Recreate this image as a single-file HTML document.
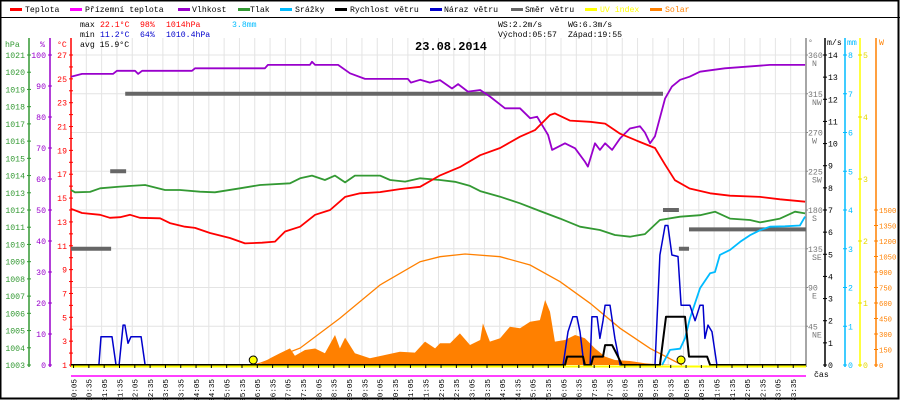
<!DOCTYPE html>
<html><head><meta charset="utf-8"><style>
html,body{margin:0;padding:0;background:#fff;}
svg{display:block;font-family:"Liberation Mono",monospace;}
</style></head><body>
<svg id="chart" width="900" height="400" viewBox="0 0 900 400" xmlns="http://www.w3.org/2000/svg">
<rect x="0.5" y="0.5" width="898" height="398" fill="#fff" stroke="#000" stroke-width="2"/>
<line x1="0" y1="17.5" x2="900" y2="17.5" stroke="#000" stroke-width="1"/>
<g id="grid"></g>
<g id="legend" font-size="8.2"></g>
<g font-size="8.2">
<text x="80" y="27" fill="#000">max</text>
<text x="100" y="27" fill="#f00">22.1°C</text>
<text x="140" y="27" fill="#f00">98%</text>
<text x="166" y="27" fill="#f00">1014hPa</text>
<text x="232" y="27" fill="#00bbff">3.8mm</text>
<text x="80" y="37" fill="#000">min</text>
<text x="100" y="37" fill="#00c">11.2°C</text>
<text x="140" y="37" fill="#00c">64%</text>
<text x="166" y="37" fill="#00c">1010.4hPa</text>
<text x="80" y="47" fill="#000">avg 15.9°C</text>
<text x="498" y="27" fill="#000">WS:2.2m/s</text>
<text x="568" y="27" fill="#000">WG:6.3m/s</text>
<text x="498" y="37" fill="#000">Východ:05:57</text>
<text x="568" y="37" fill="#000">Západ:19:55</text>
</g>
<text x="415" y="50" font-size="12" font-weight="bold" fill="#000">23.08.2014</text>
<g id="axes" font-size="8.2"></g>
<g id="series"></g>
<g id="xaxis" font-size="7.6"></g>
</svg>
<script>
// ---- data (hours since midnight, values in native units) ----
const tempTimes=[0,0.36,0.95,1.27,1.6,1.93,2.25,2.91,3.23,3.72,4.05,4.54,5.19,5.68,6.24,6.66,6.99,7.48,7.97,8.46,8.95,9.44,10.09,10.74,11.4,12.05,12.7,13.36,14.01,14.66,15.15,15.64,15.8,16.29,16.95,17.44,17.93,18.58,19.07,19.4,19.72,20.2,20.87,21.52,22.5,23.15,23.97];
const tempValues=[14.1,13.75,13.6,13.35,13.4,13.6,13.35,13.3,12.9,12.6,12.5,12.07,11.65,11.2,11.26,11.35,12.2,12.6,13.6,14.0,15.1,15.4,15.5,15.75,15.95,16.9,17.6,18.6,19.2,20.15,20.7,21.97,22.1,21.5,21.4,21.25,20.4,19.7,19.2,17.8,16.5,15.8,15.4,15.2,15.1,14.9,14.7];
const humTimes=[0,0.36,1.37,1.5,2.09,2.19,2.32,3.95,4.05,6.33,6.43,7.8,7.87,7.97,8.72,9.11,9.6,11.0,11.1,11.4,11.72,12.05,12.44,12.64,12.96,13.36,13.68,14.17,14.66,14.99,15.22,15.58,15.71,16.13,16.46,16.78,16.88,17.11,17.27,17.44,17.67,17.93,18.25,18.58,18.74,18.91,19.07,19.4,19.62,19.89,20.2,20.54,21.35,22.82,23.97];
const humValues=[93,93.9,93.9,94.9,94.9,93.9,94.9,94.9,95.7,95.7,96.8,96.8,97.8,96.8,96.8,94.1,92.3,92.3,91.1,92,91.1,91.9,89.2,90.6,88.2,88.7,86.6,82.8,82.8,79.6,80.1,74.2,69.4,71.5,69.9,65.6,64,71.5,69.4,71.5,69.4,73.1,76.3,77,75,71.5,73.8,86,89.8,92,93,94.6,95.7,96.8,96.8];
const pressTimes=[0,0.13,0.62,0.95,1.6,2.42,3.07,3.56,4.21,4.7,5.52,6.17,7.15,7.48,7.87,8.29,8.62,8.95,9.27,10.09,10.42,10.91,11.4,12.05,12.54,13.03,13.36,14.01,14.66,15.31,15.97,16.62,17.27,17.76,18.25,18.74,19.23,19.89,20.54,21.03,21.52,22.17,22.5,23.15,23.64,23.97];
const pressValues=[1013.16,1013.03,1013.05,1013.26,1013.36,1013.45,1013.16,1013.16,1013.06,1013.03,1013.26,1013.45,1013.55,1013.84,1014.0,1013.74,1014,1013.6,1014,1014,1013.74,1013.65,1013.84,1013.74,1013.64,1013.4,1013.1,1012.77,1012.39,1011.94,1011.5,1011.03,1010.84,1010.55,1010.45,1010.6,1011.42,1011.61,1011.7,1011.9,1011.5,1011.42,1011.28,1011.5,1011.9,1011.8];
const solarTimes=[6.01,6.17,6.5,6.82,7.15,7.31,7.64,7.97,8.29,8.62,8.78,8.95,9.27,9.76,10.25,10.74,11.23,11.56,11.89,12.05,12.38,12.7,13.03,13.36,13.45,13.68,14.01,14.33,14.66,14.99,15.31,15.48,15.64,15.8,16.13,16.46,16.78,17.11,17.44,17.76,18.25,18.74,19.23,19.72];
const solarValues=[0,5,65,113,161,90,145,160,113,290,161,265,113,65,97,129,120,226,161,210,210,306,194,242,403,226,258,371,355,418,435,629,516,226,242,290,258,161,81,48,39,16,6,0];
const solarMaxTimes=[5.94,6.17,7.48,8.78,10.09,11.4,12.05,12.87,14.01,14.99,15.97,16.95,17.93,18.91,19.95];
const solarMaxValues=[0,16,164,452,774,1000,1048,1074,1048,968,806,597,355,161,0];
const gustTimes=[0,0.91,0.98,1.34,1.47,1.57,1.7,1.76,1.86,1.96,2.29,2.42,16.07,16.23,16.39,16.52,16.62,16.75,16.95,17.01,17.18,17.27,17.37,17.44,17.6,17.76,17.93,19.07,19.23,19.4,19.49,19.62,19.82,19.92,20.21,20.38,20.54,20.64,20.7,20.8,20.93,21.09,24];
const gustValues=[0,0,1.28,1.28,0,0,1.8,1.8,0.98,1.28,1.28,0,0,1.5,2.18,2.18,1.5,0,0,2.18,2.18,1.2,2.0,2.7,2.7,1.2,0,0,4.97,6.3,6.3,4.97,4.9,2.7,2.7,2.0,2.7,2.7,1.2,1.8,1.5,0,0];
const windTimes=[0,16.13,16.2,16.72,16.78,16.98,17.05,17.37,17.44,17.67,17.86,17.99,19.23,19.43,20.05,20.18,20.77,20.87,24];
const windValues=[0,0,0.38,0.38,0,0,0.38,0.38,0.9,0.9,0.38,0,0,2.18,2.18,0.38,0.38,0,0];
const rainTimes=[19.3,19.56,19.89,20.05,20.21,20.54,20.87,21.03,21.19,21.52,21.85,22.17,22.5,22.82,23.31,23.8,23.97];
const rainValues=[0,0.39,0.42,0.69,1.2,1.98,2.37,2.4,2.84,2.97,3.18,3.35,3.48,3.57,3.58,3.6,3.83];
const dirStarts=[0,1.28,1.77,19.33,19.85,20.18];
const dirEnds=[1.31,1.8,19.33,19.85,20.18,24];
const dirValues=[135,225,315,180,135,157.5];
const uvMarkerTimes=[5.95,19.92];
const tempTicks=[1,3,5,7,9,11,13,15,17,19,21,23,25,27];
const humTicks=[0,10,20,30,40,50,60,70,80,90,100];
const pressTicks=[1003,1004,1005,1006,1007,1008,1009,1010,1011,1012,1013,1014,1015,1016,1017,1018,1019,1020,1021];
const dirTicks=[45,90,135,180,225,270,315,360];
const dirNames=["NE","E","SE","S","SW","W","NW","N"];
const windTicks=[0,1,2,3,4,5,6,7,8,9,10,11,12,13,14];
const rainTicks=[0,1,2,3,4,5,6,7,8];
const uvTicks=[0,1,2,3,4,5];
const solarTicks=[0,150,300,450,600,750,900,1050,1200,1350,1500];

// ---- scales ----
const L=71,R=806,B=365,T=55,H=B-T;
const X=h=>L+h*(R-L)/24;
const yT=v=>B-(v-1)*H/26;
const yH=v=>B-v*H/100;
const yP=v=>B-(v-1003)*H/18;
const yD=v=>B-v*H/360;
const yS=v=>B-v*H/14;
const yR=v=>B-v*H/8;
const yU=v=>B-v*H/5;
const yW=v=>B-v*155/1500;

const NS="http://www.w3.org/2000/svg";
function mk(tag,attrs,parent){const e=document.createElementNS(NS,tag);for(const k in attrs)e.setAttribute(k,attrs[k]);parent.appendChild(e);return e;}
const grid=document.getElementById('grid'),axes=document.getElementById('axes'),series=document.getElementById('series'),xaxis=document.getElementById('xaxis'),legend=document.getElementById('legend');

// grid
for(let k=1;k<48;k++){const x=L+k*(R-L)/48;const g=mk('line',{x1:x,y1:38,x2:x,y2:B,stroke:'#e4e4e4','stroke-width':1},grid);

}
for(let k=1;k<=8;k++){const y=yD(45*k);const g=mk('line',{x1:L,y1:y,x2:R,y2:y,stroke:'#e4e4e4','stroke-width':1},grid);

}

// legend
const legItems=[["Teplota","#f00",10,25],["Přízemní teplota","#ff00ff",70,85],["Vlhkost","#9900cc",178,192],["Tlak","#339933",238,250],["Srážky","#00bbff",280,295],["Rychlost větru","#000",335,350],["Náraz větru","#0000cc",430,444],["Směr větru","#666",511,525],["UV index","#ffff00",585,600],["Solar","#ff8000",650,665]];
legItems.forEach(it=>{const g=mk('g',{},legend);


mk('rect',{x:it[2],y:8,width:12,height:3,fill:it[1]},g);
const tc=(it[0]==="UV index"||it[0]==="Solar")?it[1]:"#000";
const t=mk('text',{x:it[3],y:12,fill:tc},g);t.textContent=it[0];});

// axes helper
function vAxis(x,color,name){const l=mk('line',{x1:x,y1:38,x2:x,y2:B+2,stroke:color,'stroke-width':1.5},axes);

}
function tick(x,y,color,txt,anchor,tx,fs){mk('line',{x1:x-2,y1:y,x2:x+2,y2:y,stroke:color,'stroke-width':1},axes);
if(txt!==null){const t=mk('text',{x:tx,y:y+3,fill:color,'text-anchor':anchor},axes);t.textContent=txt;
if(fs)t.setAttribute('font-size',fs);

}}
vAxis(29,'#339933','pressure-axis');vAxis(50,'#9900cc','humidity-axis');vAxis(L,'#f00','temperature-axis');
pressTicks.forEach(v=>tick(29,yP(v),'#339933',String(v),'end',25));
humTicks.forEach(v=>tick(50,yH(v),'#9900cc',String(v),'end',46));
for(let v=2;v<=26;v+=2)tick(L,yT(v),'#f00',null);
tempTicks.forEach(v=>tick(L,yT(v),'#f00',String(v),'end',67));
[["hPa",5,'#339933'],["%",40,'#9900cc'],["°C",57,'#f00']].forEach(a=>{const t=mk('text',{x:a[1],y:47,fill:a[2]},axes);t.textContent=a[0];

});
vAxis(R,'#888','direction-axis');vAxis(825,'#000','wind-axis');vAxis(845,'#00bbff','rain-axis');vAxis(860,'#ffff00','uv-axis');vAxis(876,'#ff8000','solar-axis');
dirTicks.forEach((v,i)=>{const y=yD(v);mk('line',{x1:R,y1:y,x2:R+2,y2:y,stroke:'#888'},axes);
const t=mk('text',{x:808,y:y+3,fill:'#777'},axes);t.textContent=String(v);


const n=mk('text',{x:812,y:y+11,fill:'#777'},axes);n.textContent=dirNames[i];

});
windTicks.forEach(v=>tick(825,yS(v),'#000',String(v),'start',828));
rainTicks.forEach(v=>tick(845,yR(v),'#00bbff',String(v),'start',848));
uvTicks.forEach(v=>tick(860,yU(v),'#e6d800',String(v),'start',863));
solarTicks.forEach(v=>tick(876,yW(v),'#ff8000',String(v),'start',879,7.2));
[["°",808,'#777'],["m/s",827,'#000'],["mm",847,'#00bbff'],["W",879,'#ff8000']].forEach(a=>{const t=mk('text',{x:a[1],y:45,fill:a[2]},axes);t.textContent=a[0];

});

// series
function pts(ts,vs,f){return ts.map((t,i)=>X(t).toFixed(1)+','+f(vs[i]).toFixed(1)).join(' ');}
const sol=mk('polygon',{points:X(solarTimes[0])+','+B+' '+pts(solarTimes,solarValues,yW)+' '+X(solarTimes[solarTimes.length-1])+','+B,fill:'#ff8000'},series);


const solm=mk('polyline',{points:pts(solarMaxTimes,solarMaxValues,yW),fill:'none',stroke:'#ff8000','stroke-width':1.3},series);


dirValues.forEach((v,i)=>{const r=mk('rect',{x:X(dirStarts[i]),y:yD(v)-2,width:X(dirEnds[i])-X(dirStarts[i]),height:4,fill:'#666'},series);

});
function line(ts,vs,f,color,w,name){const p=mk('polyline',{points:pts(ts,vs,f),fill:'none',stroke:color,'stroke-width':w,'stroke-linejoin':'round'},series);

}
line(pressTimes,pressValues,yP,'#339933',1.8,'pressure-line');
line(humTimes,humValues,yH,'#9900cc',1.8,'humidity-line');
line(tempTimes,tempValues,yT,'#f00',1.8,'temperature-line');
line(rainTimes,rainValues,yR,'#00bbff',1.8,'rain-line');
line(gustTimes,gustValues,yS,'#0000cc',1.5,'gust-line');
line(windTimes,windValues,yS,'#000',2,'wind-speed-line');
const uv=mk('line',{x1:L,y1:B+1.5,x2:R,y2:B+1.5,stroke:'#ffff00','stroke-width':2},series);


uvMarkerTimes.forEach(t=>{const c=mk('circle',{cx:X(t),cy:B-5,r:4,fill:'#ffff00',stroke:'#000','stroke-width':1},series);

});
const ap=mk('line',{x1:L,y1:376,x2:R,y2:376,stroke:'#ff00ff','stroke-width':1.5},series);



// x axis labels
for(let k=0;k<48;k++){const m=5+30*k;const hh=String(Math.floor(m/60)).padStart(2,'0'),mm=String(m%60).padStart(2,'0');
const x=X(m/60);
mk('line',{x1:x,y1:B,x2:x,y2:B+3,stroke:'#000'},xaxis);
const t=mk('text',{x:0,y:0,fill:'#000','text-anchor':'end',transform:`translate(${(x+2.8).toFixed(1)},379) rotate(-90)`},xaxis);
t.textContent=hh+':'+mm;

}
const cas=mk('text',{x:814,y:377,fill:'#000','font-size':8.2},xaxis);cas.textContent='čas';


</script>
</body></html>
